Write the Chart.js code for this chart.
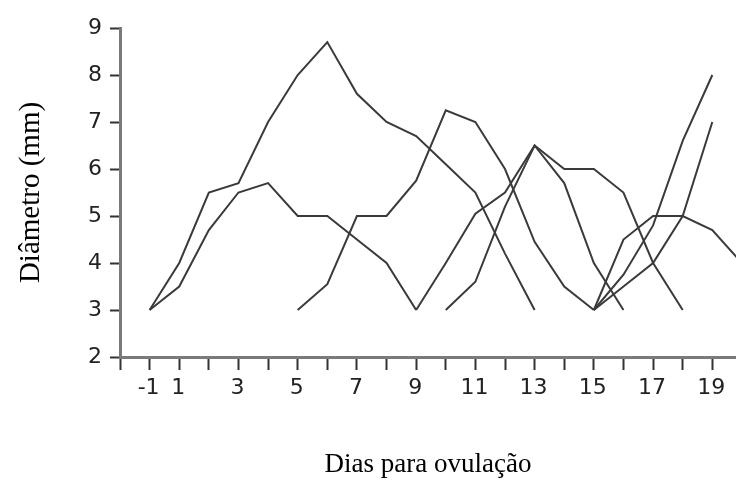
<!DOCTYPE html>
<html>
<head>
<meta charset="utf-8">
<script src="https://cdn.jsdelivr.net/npm/chart.js@4/dist/chart.umd.min.js"></script>
<style>
  body { margin: 0; background: #fff; }
  #wrap { width: 736px; height: 481px; }
</style>
</head>
<body>
<div id="wrap"><canvas id="grafico" width="736" height="481"></canvas></div>
<script>
// dias para ovulação (eixo x)
const dias = [0, 1, 2, 3, 4, 5, 6, 7, 8, 9, 10, 11, 12, 13, 14, 15, 16, 17, 18, 19, 20];

// diâmetro dos folículos (mm), uma lista por folículo
const foliculoA = [3, 4, 5.5, 5.7, 7, 8, 8.7, 7.6, 7.0, 6.7, 6.1, 5.5, 4.2, 3, null, null, null, null, null, null, null];
const foliculoB = [3, 3.5, 4.7, 5.5, 5.7, 5, 5, 4.5, 4, 3, null, null, null, null, null, null, null, null, null, null, null];
const foliculoC = [null, null, null, null, null, 3, 3.55, 5, 5, 5.75, 7.25, 7, 6, 4.45, 3.5, 3, null, null, null, null, null];
const foliculoD = [null, null, null, null, null, null, null, null, null, 3, 4, 5.05, 5.5, 6.5, 6, 6, 5.5, 4, 3, null, null];
const foliculoE = [null, null, null, null, null, null, null, null, null, null, 3, 3.6, 5.2, 6.5, 5.7, 4, 3, null, null, null, null];
const foliculoF = [null, null, null, null, null, null, null, null, null, null, null, null, null, null, null, 3, 3.75, 4.8, 6.6, 8, null];
const foliculoG = [null, null, null, null, null, null, null, null, null, null, null, null, null, null, null, 3, 3.5, 4, 5, 7, null];
const foliculoH = [null, null, null, null, null, null, null, null, null, null, null, null, null, null, null, 3, 4.5, 5, 5, 4.7, 4.0];

// traços do eixo x e seus rótulos (o "-1" fica sob o primeiro traço, como no original)
const tracosX = [-1, 0, 1, 2, 3, 4, 5, 6, 7, 8, 9, 10, 11, 12, 13, 14, 15, 16, 17, 18, 19];
const rotulosX = { 0: '-1', 1: '1', 3: '3', 5: '5', 7: '7', 9: '9', 11: '11', 13: '13', 15: '15', 17: '17', 19: '19' };

const series = [foliculoA, foliculoB, foliculoC, foliculoD, foliculoE, foliculoF, foliculoG, foliculoH];

function pontos(valores) {
    return dias
        .map((d, i) => ({ x: d, y: valores[i] }))
        .filter(p => p.y !== null);
}

const ctx = document.getElementById('grafico').getContext('2d');

new Chart(ctx, {
    type: 'line',
    data: {
        datasets: series.map(s => ({
            data: pontos(s),
            borderColor: '#3a3a3a',
            borderWidth: 2,
            pointRadius: 0,
            tension: 0,
            fill: false
        }))
    },
    options: {
        responsive: false,
        animation: false,
        layout: { padding: { top: 28, right: 0, bottom: 0, left: 0 } },
        plugins: {
            legend: { display: false },
            tooltip: { enabled: false }
        },
        scales: {
            x: {
                type: 'linear',
                min: -1,
                max: 19.8,
                afterBuildTicks: scale => {
                    scale.ticks = tracosX.map(v => ({ value: v }));
                },
                afterFit: scale => { scale.height = 124; },
                grid: {
                    drawOnChartArea: false,
                    drawTicks: true,
                    tickLength: 13,
                    tickWidth: 2,
                    tickColor: '#333'
                },
                border: { color: '#7a7a7a', width: 3 },
                ticks: {
                    autoSkip: false,
                    maxRotation: 0,
                    padding: 5,
                    labelOffset: -1,
                    color: '#222',
                    font: { family: 'DejaVu Sans', size: 22 },
                    callback: v => rotulosX[v] || ''
                },
                title: {
                    display: true,
                    text: 'Dias para ovulação',
                    color: '#000',
                    font: { family: 'Liberation Serif', size: 27 },
                    padding: { top: 0, bottom: 0 }
                }
            },
            y: {
                min: 2,
                max: 9,
                afterFit: scale => { scale.width = 120; },
                grid: {
                    drawOnChartArea: false,
                    drawTicks: true,
                    tickLength: 10,
                    tickWidth: 2,
                    tickColor: '#333'
                },
                border: { color: '#7a7a7a', width: 3 },
                ticks: {
                    stepSize: 1,
                    padding: 8,
                    color: '#222',
                    font: { family: 'DejaVu Sans', size: 22 }
                },
                title: {
                    display: true,
                    text: 'Diâmetro (mm)',
                    color: '#000',
                    font: { family: 'Liberation Serif', size: 29 },
                    padding: { top: 14, bottom: 0 }
                }
            }
        }
    }
});
</script>
</body>
</html>
